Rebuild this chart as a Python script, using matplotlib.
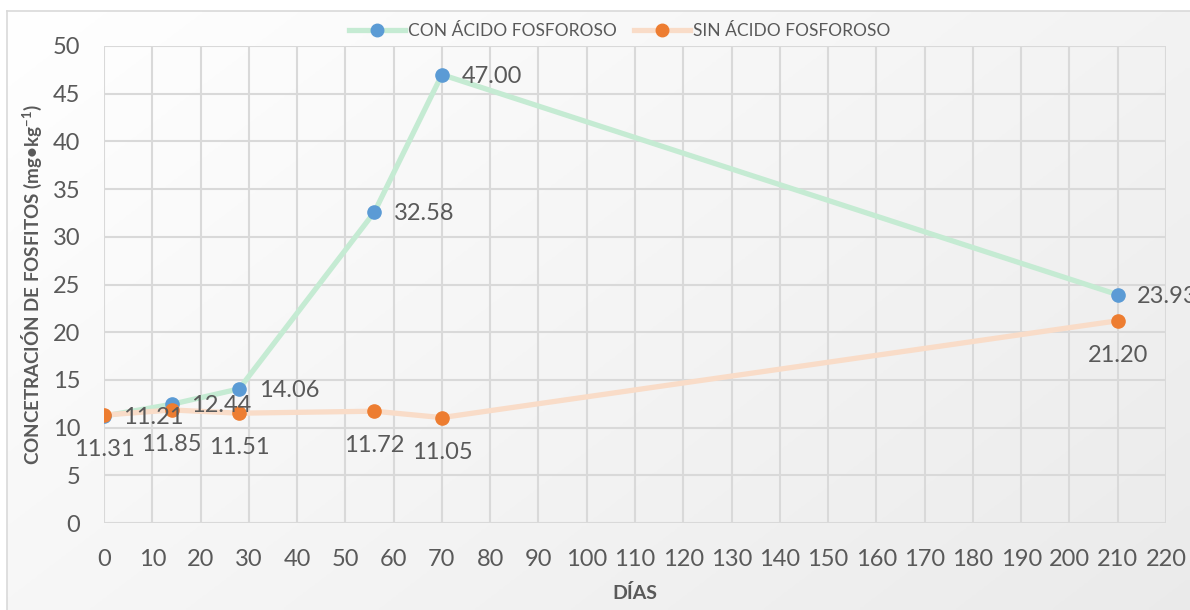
import numpy as np
import matplotlib
matplotlib.use("Agg")
import matplotlib.pyplot as plt
from matplotlib.lines import Line2D

dias = [0, 14, 28, 56, 70, 210]
con_acido = [11.21, 12.44, 14.06, 32.58, 47.00, 23.93]
sin_acido = [11.31, 11.85, 11.51, 11.72, 11.05, 21.20]
serie_con = "CON ÁCIDO FOSFOROSO"
serie_sin = "SIN ÁCIDO FOSFOROSO"
x_ticks = list(range(0, 221, 10))
y_ticks = list(range(0, 51, 5))

plt.rcParams['font.family'] = ['Lato', 'DejaVu Sans']
plt.rcParams['mathtext.fontset'] = 'custom'
plt.rcParams['mathtext.rm'] = 'Lato'
plt.rcParams['mathtext.bf'] = 'Lato:bold'
GRAY = '#595959'
GRID = '#d9d9d9'

fig = plt.figure(figsize=(11.9, 6.1), dpi=100)
fig.patch.set_facecolor('white')

# gradient background panel
bg = fig.add_axes([7/1190, 0, 1 - 7/1190, 1 - 11/610])
yy, xx = np.mgrid[0:1:200j, 0:1:200j]
g = 1 - 0.08 * (xx * 0.6 + yy * 0.4)
g = np.clip(g, 0, 1)
bg.imshow(np.dstack([g, g, g]), aspect='auto', extent=[0, 1, 0, 1], origin='upper')
bg.set_xticks([]); bg.set_yticks([])
for s in bg.spines.values():
    s.set_color(GRID); s.set_linewidth(1.2)
bg.spines['right'].set_visible(False); bg.spines['bottom'].set_visible(False)

ax = fig.add_axes([104/1190, 1 - 523/610, (1166 - 104)/1190, (523 - 46)/610])
ax.set_facecolor('none')
ax.set_xlim(0, 220)
ax.set_ylim(0, 50)
ax.set_xticks(x_ticks)
ax.set_yticks(y_ticks)
ax.grid(True, color=GRID, linewidth=1.5)
ax.set_axisbelow(True)
for s in ax.spines.values():
    s.set_visible(False)
ax.tick_params(length=0, labelsize=17, labelcolor=GRAY)
ax.tick_params(axis='x', pad=19)
ax.tick_params(axis='y', pad=17)

ax.plot(dias, con_acido, color='#c5ebd3', linewidth=3.8, solid_capstyle='round', zorder=2)
ax.plot(dias, sin_acido, color='#f9dcc8', linewidth=3.8, solid_capstyle='round', zorder=2)
ax.plot(dias, con_acido, 'o', color='#5b9bd5', markersize=9.5, zorder=3)
ax.plot(dias, sin_acido, 'o', color='#ed7d31', markersize=9.5, zorder=4)

for x, v in zip(dias, con_acido):
    ax.annotate(f"{v:.2f}", (x, v), xytext=(14, -1), textcoords='offset points',
                ha='left', va='center', fontsize=17, color=GRAY, annotation_clip=False, zorder=5)
for x, v in zip(dias, sin_acido):
    ax.annotate(f"{v:.2f}", (x, v), xytext=(0, -25), textcoords='offset points',
                ha='center', va='center', fontsize=17, color=GRAY, annotation_clip=False, zorder=5)

ax.set_xlabel("DÍAS", fontsize=14, fontweight='bold', color=GRAY, labelpad=10)
ax.set_ylabel("CONCETRACIÓN DE FOSFITOS (mg•kg$\\mathbf{^{-1}}$)", fontsize=13.5, fontweight='bold',
              color=GRAY, labelpad=6)

handles = [
    Line2D([0], [0], color='#c5ebd3', linewidth=3.8, marker='o', markersize=9,
           markerfacecolor='#5b9bd5', markeredgecolor='#5b9bd5'),
    Line2D([0], [0], color='#f9dcc8', linewidth=3.8, marker='o', markersize=9,
           markerfacecolor='#ed7d31', markeredgecolor='#ed7d31'),
]
fig.legend(handles, [serie_con, serie_sin], loc='center', bbox_to_anchor=(620/1190, 1 - 31/610),
           ncol=2, frameon=False, fontsize=12.5, labelcolor=GRAY, handlelength=3.2,
           handletextpad=0.2, columnspacing=1.0)

fig.savefig("out.png", dpi=100)
